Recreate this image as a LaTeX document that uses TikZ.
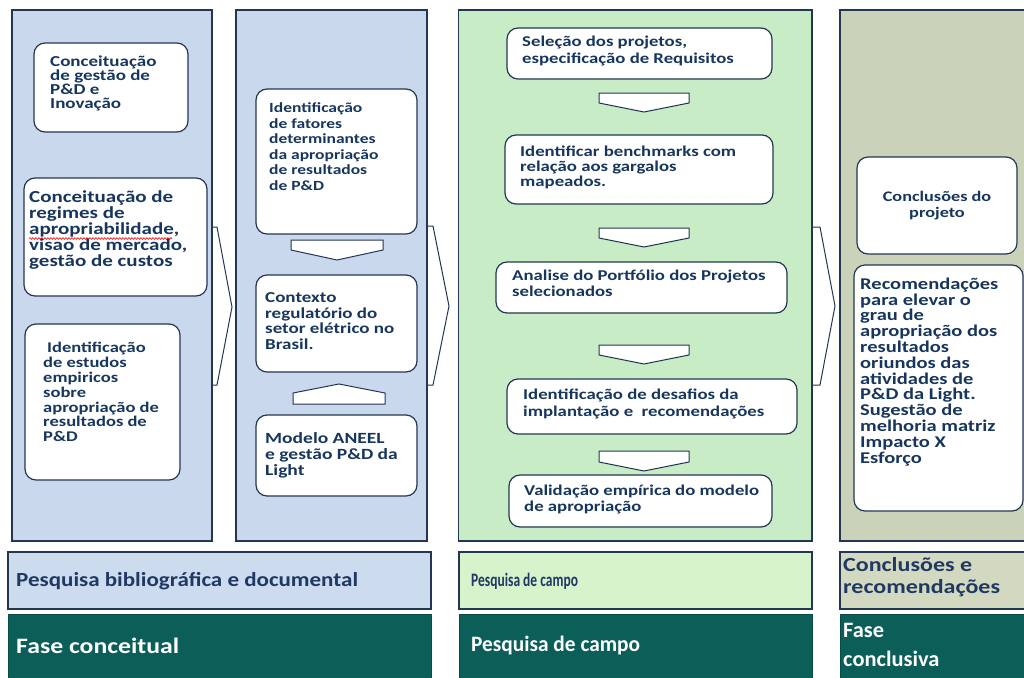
\documentclass[tikz,border=0pt]{standalone}
\usepackage{fontspec}
\setmainfont{Carlito}
\newfontfamily\boxfont{Carlito}[FakeStretch=1.25]
\newfontfamily\barAfont{Carlito}[FakeStretch=1.15]
\newfontfamily\barBfont{Carlito}[FakeStretch=0.71]
\newfontfamily\barCfont{Carlito}[FakeStretch=1.2]
\newfontfamily\barDfont{Carlito}[FakeStretch=1.17]
\newfontfamily\barEfont{Carlito}[FakeStretch=0.97]
\newfontfamily\barFfont{Carlito}[FakeStretch=1.02]
\usetikzlibrary{decorations.pathmorphing}
\definecolor{bordercol}{RGB}{36,55,82}
\definecolor{textcol}{RGB}{23,54,93}
\definecolor{bartext}{RGB}{31,56,100}
\definecolor{blueP}{RGB}{201,216,236}
\definecolor{greenP}{RGB}{200,236,198}
\definecolor{oliveP}{RGB}{202,211,185}
\definecolor{blueB}{RGB}{205,219,238}
\definecolor{greenB}{RGB}{215,243,204}
\definecolor{oliveB}{RGB}{211,217,193}
\definecolor{tealB}{RGB}{12,94,88}
% box text: size given as horizontal em, set with horizontal stretch
\newcommand\fsz[2]{\boxfont\bfseries\fontsize{#1}{#2}\selectfont\lineskiplimit=-100pt\lineskip=0pt}
\newcommand\lsz[2]{\bfseries\fontsize{#1}{#2}\selectfont\lineskiplimit=-100pt\lineskip=0pt}
\tikzset{
  panel/.style={draw=bordercol, line width=1.2pt},
  tbox/.style={draw=bordercol, fill=white, rounded corners=11pt, line width=1.2pt},
  chev/.style={draw=bordercol, fill=white, line width=1pt, line join=miter},
  btxt/.style={text=textcol, inner sep=0pt, anchor=north west, align=left},
  bar/.style={draw=bordercol, line width=1.2pt},
  darkbar/.style={draw=tealB!80!black, fill=tealB, line width=0.8pt},
  lbtxt/.style={text=bartext, inner sep=0pt, anchor=west, align=left},
  dbtxt/.style={text=white, inner sep=0pt, anchor=west, align=left},
}
\begin{document}
\begin{tikzpicture}[x=1pt,y=-1pt]
\useasboundingbox (0,0) rectangle (1024,677);
\clip (0,0) rectangle (1024,677);
\fill[white] (0,0) rectangle (1024,677);

% ---------- chevrons between columns (behind panels)
\draw[chev] (212,227) -- (217,227) -- (232,307) -- (217,385) -- (212,385);
\draw[chev] (427,226) -- (433,226) -- (449,306) -- (433,385) -- (427,385);
\draw[chev] (812,227) -- (820,227) -- (835,306) -- (820,385) -- (812,385);

% ---------- panels
\draw[panel, fill=blueP] (12,10) rectangle (212,541);
\draw[panel, fill=blueP] (236,10) rectangle (427,541);
\draw[panel, fill=greenP] (458.5,10) rectangle (812,541);
\draw[panel, fill=oliveP] (840,10) rectangle (1040,541);

% ---------- column 1
\draw[tbox] (34,43) rectangle (188,132);
\node[btxt, font=\fsz{15.2}{14}] (t11) at (50,55.2) {Conceituação\\de gestão de\\P\&D e\\Inovação};
\draw[tbox] (24,178) rectangle (207,296);
\node[btxt, font=\fsz{16.8}{16}] (t12) at (29,190.4) {Conceituação de\\regimes de\\apropriabilidade,\\visao de mercado,\\gestão de custos};
\draw[red, line width=0.6pt, decorate, decoration={snake, amplitude=0.9pt, segment length=3pt}] (29,238.5) -- (172,238.5);
\draw[tbox] (25,324) rectangle (180,480);
\node[btxt, font=\fsz{14.8}{14.8}] (t13) at (43,342.3) {\hspace{4pt}Identificação\\de estudos\\empiricos\\sobre\\apropriação de\\resultados de\\P\&D};

% ---------- column 2
\draw[tbox] (256,89) rectangle (417,234);
\node[btxt, font=\fsz{14}{15.5}] (t21) at (269,102.7) {Identificação\\de fatores\\determinantes\\da apropriação\\de resultados\\de P\&D};
\draw[chev] (291,240) -- (383,240) -- (383,250) -- (337,260) -- (291,250) -- cycle;
\draw[tbox] (256,275) rectangle (417,372);
\node[btxt, font=\fsz{15.2}{15.7}] (t22) at (265,292.2) {Contexto\\regulatório do\\setor elétrico no\\Brasil.};
\draw[chev] (293,404) -- (385,404) -- (385,393) -- (339,384) -- (293,393) -- cycle;
\draw[tbox] (256,415) rectangle (417,496);
\node[btxt, font=\fsz{15.6}{16}] (t23) at (265,432) {Modelo ANEEL\\e gestão P\&D da\\Light};

% ---------- column 3
\draw[tbox] (507,28) rectangle (772,79);
\node[btxt, font=\fsz{15}{17}] (t31) at (522,36.2) {Seleção dos projetos,\\especificação de Requisitos};
\draw[chev] (599,93) -- (689,93) -- (689,103) -- (644,112) -- (599,103) -- cycle;
\draw[tbox] (505,135) rectangle (773,204);
\node[btxt, font=\fsz{15}{15}] (t32) at (520,146.2) {Identificar benchmarks com\\relação aos gargalos\\mapeados.};
\draw[chev] (599,228) -- (689,228) -- (689,238) -- (644,247) -- (599,238) -- cycle;
\draw[tbox] (496,262) rectangle (787,313);
\node[btxt, font=\fsz{15}{16}] (t33) at (512,270.2) {Analise do Portfólio dos Projetos\\selecionados};
\draw[chev] (599,345) -- (689,345) -- (689,355) -- (644,364) -- (599,355) -- cycle;
\draw[tbox] (507,379) rectangle (797,434);
\node[btxt, font=\fsz{15}{17}] (t34) at (523,389.2) {Identificação de desafios da\\implantação e\ \ recomendações};
\draw[chev] (599,451) -- (689,451) -- (689,462) -- (644,471) -- (599,462) -- cycle;
\draw[tbox] (509,475) rectangle (772,527);
\node[btxt, font=\fsz{15}{16}] (t35) at (524,485.2) {Validação empírica do modelo\\de apropriação};

% ---------- column 4
\draw[tbox] (857,157) rectangle (1017,254);
\node[btxt, anchor=north, align=center, font=\fsz{14.6}{16}] (t41) at (937,191.4) {Conclusões do\\projeto};
\draw[tbox] (854,265) rectangle (1023,511);
\node[btxt, font=\fsz{16.4}{15.8}] (t42) at (860,277.6) {Recomendações\\para elevar o\\grau de\\apropriação dos\\resultados\\oriundos das\\atividades de\\P\&D da Light.\\Sugestão de\\melhoria matriz\\Impacto X\\Esforço};

% ---------- bottom bars, row 1
\draw[bar, fill=blueB] (8,552) rectangle (431,609);
\node[lbtxt, font=\barAfont\lsz{20}{22}] (b11) at (16,581) {Pesquisa bibliográfica e documental};
\draw[bar, fill=greenB] (459,552) rectangle (812,609);
\node[lbtxt, font=\barBfont\lsz{19}{22}] (b12) at (471,581) {Pesquisa de campo};
\draw[bar, fill=oliveB] (840,552) rectangle (1040,609);
\node[lbtxt, font=\barCfont\lsz{20}{22}] (b13) at (843,577) {Conclusões e\\recomendações};

% ---------- bottom bars, row 2
\draw[darkbar] (8,614) rectangle (431,685);
\node[dbtxt, font=\barDfont\lsz{22}{28}] (b21) at (16,646) {Fase conceitual};
\draw[darkbar] (459,614) rectangle (812,685);
\node[dbtxt, font=\barEfont\lsz{22}{28}] (b22) at (471,646) {Pesquisa de campo};
\draw[darkbar] (840,614) rectangle (1040,685);
\node[dbtxt, font=\barFfont\lsz{22}{29}] (b23) at (843,645) {Fase\\conclusiva};
\end{tikzpicture}
\end{document}
